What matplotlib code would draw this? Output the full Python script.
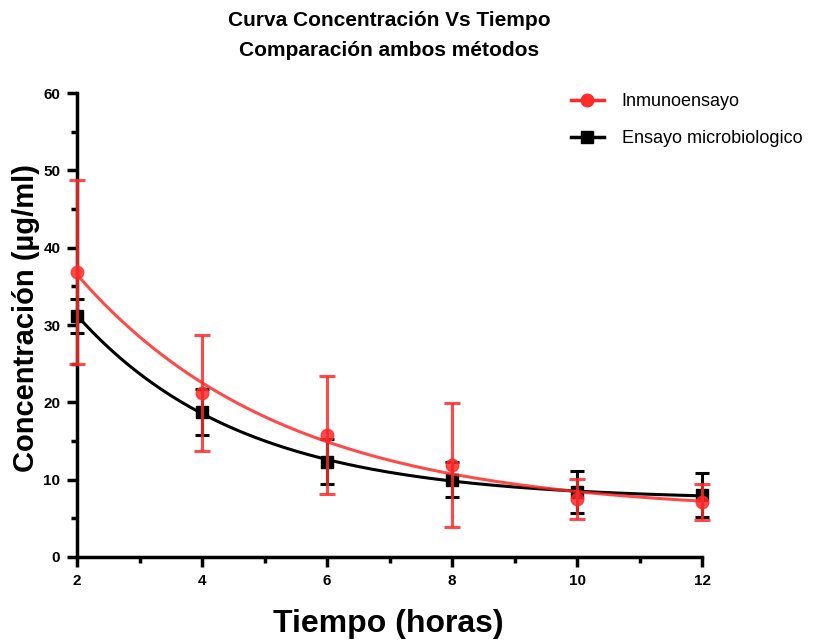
import numpy as np
import matplotlib
matplotlib.use('Agg')
import matplotlib.pyplot as plt
from matplotlib.ticker import MultipleLocator

plt.rcParams['font.family'] = ['Liberation Sans', 'DejaVu Sans']

# data
tiempo = [2, 4, 6, 8, 10, 12]
inmuno = [36.9, 21.2, 15.8, 11.9, 7.5, 7.1]
inmuno_err = [11.9, 7.5, 7.6, 8.0, 2.6, 2.3]
micro = [31.2, 18.75, 12.3, 10.0, 8.4, 8.0]
micro_err = [2.2, 2.95, 2.9, 2.3, 2.7, 2.8]


def fit_decay(x, y):
    # one-phase decay y = plateau + span*exp(-k*(x-x0)), least squares over k
    x = np.asarray(x, float)
    y = np.asarray(y, float)
    best = None
    for k in np.linspace(0.01, 2, 2000):
        e = np.exp(-k * (x - x[0]))
        A = np.column_stack([np.ones_like(e), e])
        coef, *_ = np.linalg.lstsq(A, y, rcond=None)
        r = np.sum((A @ coef - y) ** 2)
        if best is None or r < best[0]:
            best = (r, k, coef)
    _, k, (p, s) = best
    return lambda t: p + s * np.exp(-k * (t - x[0]))


red = '#ff2a2a'
xs = np.linspace(2, 12, 200)

fig = plt.figure(figsize=(8.28, 6.42), dpi=100)
ax = fig.add_axes([0.093, 0.1324, 0.755, 0.7226])

ax.plot(xs, fit_decay(tiempo, micro)(xs), color='black', lw=2.2, zorder=3)
ax.errorbar(tiempo, micro, yerr=micro_err, fmt='s', color='black', ms=8,
            ecolor='black', elinewidth=2.2, capsize=5, capthick=2.2, zorder=3)
ax.plot(xs, fit_decay(tiempo, inmuno)(xs), color=red, lw=2.2, alpha=0.85, zorder=4)
ax.errorbar(tiempo, inmuno, yerr=inmuno_err, fmt='o', color=red, ms=9,
            ecolor=red, elinewidth=2.2, capsize=6, capthick=2.2, alpha=0.85, zorder=4)

for line in ax.lines:
    line.set_clip_on(False)
for c in ax.collections:
    c.set_clip_on(False)

# legend handles
h1, = ax.plot([], [], color=red, marker='o', ms=9, lw=2.5)
h2, = ax.plot([], [], color='black', marker='s', ms=8, lw=2.5)
fig.legend([h1, h2], ['Inmunoensayo', 'Ensayo microbiologico'],
           loc='upper left', bbox_to_anchor=(0.67, 0.88), frameon=False,
           fontsize=13, handlelength=1.8, handletextpad=1.0, labelspacing=1.1)

ax.set_xlim(2, 12)
ax.set_ylim(0, 60)
ax.xaxis.set_major_locator(MultipleLocator(2))
ax.xaxis.set_minor_locator(MultipleLocator(1))
ax.yaxis.set_major_locator(MultipleLocator(10))
ax.yaxis.set_minor_locator(MultipleLocator(5))
for s in ['top', 'right']:
    ax.spines[s].set_visible(False)
for s in ['left', 'bottom']:
    ax.spines[s].set_linewidth(2.5)
ax.tick_params(which='major', length=7, width=2.5, labelsize=11, pad=5)
ax.tick_params(which='minor', length=4, width=2.5)
for lab in ax.get_xticklabels() + ax.get_yticklabels():
    lab.set_fontweight('bold')

fig.text(388 / 828, 1 - 624 / 642, 'Tiempo (horas)', ha='center', va='center',
         fontsize=23, fontweight='bold')
fig.text(26 / 828, 1 - 318 / 642, 'Concentración (µg/ml)', ha='center', va='center',
         rotation=90, fontsize=21, fontweight='bold')
fig.text(0.47, 1 - 20 / 642, 'Curva Concentración Vs Tiempo', ha='center', va='center',
         fontsize=15, fontweight='bold')
fig.text(0.47, 1 - 50 / 642, 'Comparación ambos métodos', ha='center', va='center',
         fontsize=15, fontweight='bold')

fig.savefig('out.png', dpi=100)
